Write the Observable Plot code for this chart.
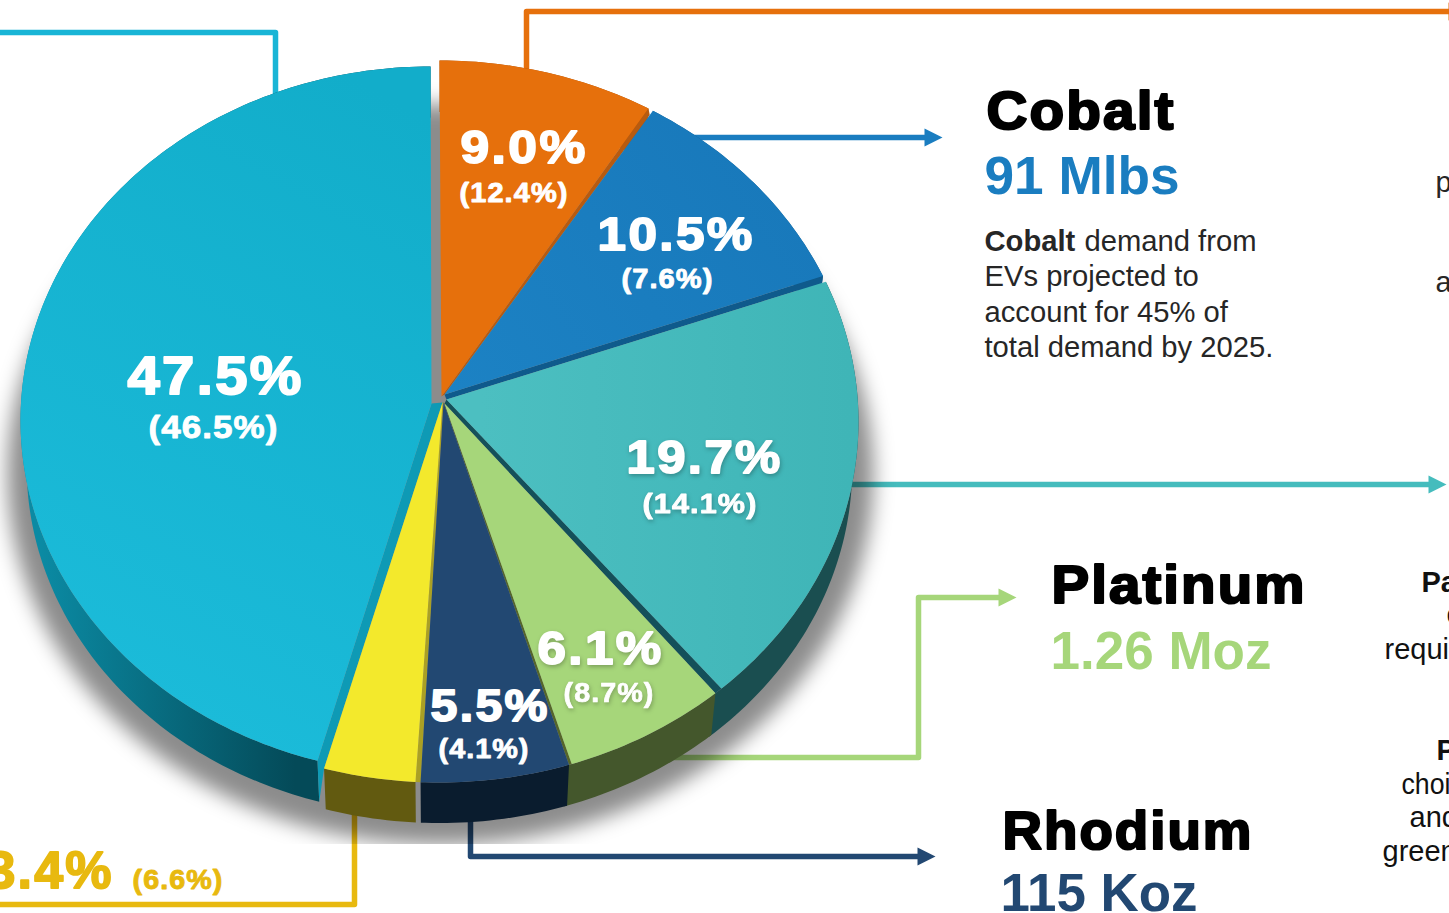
<!DOCTYPE html>
<html>
<head>
<meta charset="utf-8">
<script src="https://cdn.jsdelivr.net/npm/d3@7"></script>
<script src="https://cdn.jsdelivr.net/npm/@observablehq/plot@0.6"></script>
<style>html,body{margin:0;padding:0;background:#fff;overflow:hidden}svg{display:block}</style>
</head>
<body>
<div id="chart"></div>
<script>
// ---- values ----
const sliceKeys = ["orange", "blue", "teal", "green", "navy", "yellow", "cyan"];
const sliceShare = [8.31, 9.89, 19.58, 6.33, 5.72, 3.53, 45.56];   // visible share of the rim, %
const sliceGap = [0.7, 1.0, 1.1, 0.4, 0.7, 0, 0];                  // visible gap after each slice, degrees
const currentPct = ["9.0%", "10.5%", "19.7%", "6.1%", "5.5%", "3.4%", "47.5%"];
const priorPct = ["(12.4%)", "(7.6%)", "(14.1%)", "(8.7%)", "(4.1%)", "(6.6%)", "(46.5%)"];
const metalNames = ["Cobalt", "Platinum", "Rhodium"];
const metalAmounts = ["91 Mlbs", "1.26 Moz", "115 Koz"];
const cobaltNote = ["EVs projected to", "account for 45% of", "total demand by 2025."];

// ---- layout ----
const W = 1449, H = 913;
const rimMain = {cx: 439, cy: 421, rx: 419, ry: 361};
const rimCyan = {cx: 430, cy: 420, rx: 410, ry: 354};
const apex = {
  orange: [441, 396], blue: [444, 394], teal: [446, 399], green: [444, 403],
  navy: [443, 402], yellow: [442, 402], cyan: [431, 403]
};
const faceFill = {orange: "#e6700c", blue: "url(#gBlue)", teal: "url(#gTeal)", green: "#a6d67a", navy: "#224872", yellow: "#f3e92c", cyan: "url(#gCyan)"};
const wallFill = {orange: "#a34e0a", blue: "#0f5a8c", teal: "#1a4e50", green: "#44572c", navy: "#0a1c2e", yellow: "#625a10", cyan: "url(#gCyanWall)"};
const backToFront = ["cyan", "teal", "blue", "orange", "green", "yellow", "navy"];

const rad = d => d * Math.PI / 180;
const rimAt = (p, deg) => [p.cx + p.rx * Math.sin(rad(deg)), p.cy - p.ry * Math.cos(rad(deg))];
const wallAt = (p, deg) => [p.cx + 0.985 * p.rx * Math.sin(rad(deg)), p.cy + 46 - 0.985 * p.ry * Math.cos(rad(deg))];
const rimFor = k => (k === "cyan" ? rimCyan : rimMain);

// slice spans computed from the shares
let cursor = 0;
const span = {};
sliceKeys.forEach((k, i) => {
  const a = cursor, b = cursor + sliceShare[i] * 3.6;
  span[k] = [a, b];
  cursor = b + sliceGap[i];
});

const arcRange = ([a, b]) => d3.range(a, b, 1).concat([b]);
const pts = list => list.map(([x, y]) => ({x, y}));
const poly = (points, fill, extra = {}) =>
  Plot.line(pts(points), {x: "x", y: "y", fill, stroke: "none", ...extra});

// shadow: an ellipse, blurred and cut off at the bottom of the image box
const shadowRing = d3.range(0, 360, 2).map(d => rimAt({cx: 440, cy: 474, rx: 433, ry: 370}, d));
const shadowMark = poly(shadowRing, "#000", {
  fillOpacity: 0.45,
  render(index, scales, values, dimensions, context, next) {
    const g = next(index, scales, values, dimensions, context);
    g.style.filter = "blur(10px)";
    const wrap = document.createElementNS("http://www.w3.org/2000/svg", "g");
    wrap.setAttribute("clip-path", "url(#shadowClip)");
    wrap.appendChild(g);
    return wrap;
  }
});

// side walls: teal and green run on behind their neighbour so that no gap shows
const wallSpan = k => {
  if (k === "teal") return [span.teal[0], span.green[0] + 0.5];
  if (k === "green") return [span.green[0], span.navy[0] + 0.5];
  return span[k];
};
const wallMarks = backToFront.map(k => {
  const p = rimFor(k), angles = arcRange(wallSpan(k));
  const top = angles.map(d => rimAt(p, d));
  const bottom = angles.map(d => wallAt(p, d)).reverse();
  return poly(top.concat(bottom), wallFill[k]);
});

// cut faces seen between neighbouring slices; "reach" stops the far corner just short of the rim
const cut = (k1, k2, fill, reach = 1) => {
  const a = apex[k2], r = rimAt(rimFor(k2), span[k2][0]);
  const far = [a[0] + (r[0] - a[0]) * reach, a[1] + (r[1] - a[1]) * reach];
  return poly([apex[k1], rimAt(rimFor(k1), span[k1][1]), far, a], fill);
};
const cutMarks = [
  cut("orange", "blue", "#b85b10", 0.985),
  cut("blue", "teal", "#0f5a8c", 0.99),
  cut("teal", "green", "#14505a"),
  cut("green", "navy", "#55662a"),
  cut("navy", "yellow", "#aaa024"),
  poly([apex.cyan, rimAt(rimCyan, span.cyan[0]), wallAt(rimCyan, span.cyan[0]), rimAt(rimMain, span.yellow[1]), apex.yellow], "#0e9ab5")
];

// top faces
const faceMarks = backToFront.map(k => {
  const p = rimFor(k);
  return poly([apex[k], ...arcRange(span[k]).map(d => rimAt(p, d))], faceFill[k]);
});

// leader lines
const leader = (points, stroke) => Plot.line(pts(points), {x: "x", y: "y", stroke, strokeWidth: 5.5, strokeLinejoin: "round", strokeLinecap: "butt"});
const head = (tipX, y, fill, len = 18, half = 9) => poly([[tipX, y], [tipX - len, y - half], [tipX - len, y + half]], fill);
const leaderMarks = [
  leader([[-6, 32], [275, 32], [275, 100]], "#19b5d6"),
  leader([[526, 75], [526, 11], [1449, 11]], "#e6700c"),
  head(1466, 11, "#e6700c"),
  leader([[685, 137], [926, 137]], "#1a7dc0"),
  head(942, 137, "#1a7dc0"),
  leader([[845, 484], [1430, 484]], "#45bcbd"),
  head(1446, 484, "#45bcbd"),
  leader([[660, 757], [918, 757], [918, 597], [1000, 597]], "#a6d67a"),
  head(1016, 597, "#a6d67a"),
  leader([[470, 815], [470, 856], [920, 856]], "#224872"),
  head(935, 856, "#224872"),
  leader([[354, 805], [354, 904], [-6, 904]], "#e8b90f")
];

// text with measured left edge, baseline and width
function label(t, x, y, o) {
  const {size, fill = "#fff", w, weight = "bold", halo = 0, glow = false, track = 0} = o;
  return Plot.text([{t, x, y}], {
    x: "x", y: "y", text: "t", textAnchor: "start", lineAnchor: "bottom",
    fontFamily: "Liberation Sans, Arial, sans-serif", fontSize: size, fontWeight: weight, fill,
    ...(halo ? {stroke: fill, strokeWidth: halo, strokeLinejoin: "round"} : {}),
    render(index, scales, values, dimensions, context, next) {
      const g = next(index, scales, values, dimensions, context);
      g.querySelectorAll("text").forEach(el => {
        if (track) el.style.letterSpacing = track + "px";
        if (w) { el.setAttribute("textLength", w + track); el.setAttribute("lengthAdjust", "spacingAndGlyphs"); }
        if (halo) el.setAttribute("paint-order", "stroke");
      });
      if (glow) g.style.filter = "drop-shadow(1px 2px 2px rgba(0,0,0,.25))";
      return g;
    }
  });
}

const i = k => sliceKeys.indexOf(k);
const big = {size: 47, halo: 1.8, track: 2.2};
const sub = {size: 27, halo: 0.9, track: 1};
const textMarks = [
  label(currentPct[i("orange")], 460, 162, {...big, w: 125}),
  label(priorPct[i("orange")], 459, 201, {...sub, w: 108}),
  label(currentPct[i("blue")], 597, 249, {...big, w: 155}),
  label(priorPct[i("blue")], 621, 287, {...sub, w: 91}),
  label(currentPct[i("teal")], 626, 472, {...big, w: 154, glow: true}),
  label(priorPct[i("teal")], 642, 512, {...sub, w: 114, glow: true}),
  label(currentPct[i("green")], 537, 663, {...big, w: 124, glow: true}),
  label(priorPct[i("green")], 563, 701, {...sub, w: 90, halo: 0.7, glow: true}),
  label(currentPct[i("navy")], 430, 720, {...big, size: 45, w: 117}),
  label(priorPct[i("navy")], 438, 757, {...sub, w: 90}),
  label(currentPct[i("cyan")], 127, 393, {...big, size: 54, w: 174, halo: 2}),
  label(priorPct[i("cyan")], 148, 437, {...sub, size: 32, w: 129}),
  label(currentPct[i("yellow")], -14, 887, {...big, size: 52, w: 125, fill: "#e8b90f"}),
  label(priorPct[i("yellow")], 132, 888, {...sub, w: 90, fill: "#e8b90f"}),

  label(metalNames[0], 986, 128, {size: 54, w: 187, fill: "#000", halo: 2.2, track: 2}),
  label(metalAmounts[0], 984, 193, {size: 53, w: 195, fill: "#1a7dc0"}),
  label(metalNames[1], 1051, 602, {size: 54, w: 253, fill: "#000", halo: 2.2, track: 2}),
  label(metalAmounts[1], 1050, 668, {size: 53, w: 221, fill: "#a6d67a"}),
  label(metalNames[2], 1002, 848, {size: 54, w: 249, fill: "#000", halo: 2.2, track: 2}),
  label(metalAmounts[2], 1000, 910, {size: 53, w: 197, fill: "#224872"}),

  label("Cobalt", 984, 250, {size: 29.2, fill: "#262626"}),
  label("demand from", 1084, 250, {size: 29.2, weight: "normal", fill: "#262626"}),
  ...cobaltNote.map((t, n) => label(t, 984, [285, 321, 356][n], {size: 29.2, weight: "normal", fill: "#262626"})),

  label("p", 1435, 191, {size: 29, weight: "normal", fill: "#262626"}),
  label("a", 1435, 291, {size: 29, weight: "normal", fill: "#262626"}),
  label("Pa", 1421, 591, {size: 29, fill: "#111"}),
  label("c", 1446, 623, {size: 29, weight: "normal", fill: "#111"}),
  label("requi", 1384, 658, {size: 29, weight: "normal", fill: "#111"}),
  label("P", 1436, 759, {size: 29, fill: "#111"}),
  label("choi", 1401, 793, {size: 29, weight: "normal", fill: "#111", w: 49}),
  label("and", 1409, 826, {size: 29, weight: "normal", fill: "#111"}),
  label("green", 1382, 860, {size: 29, weight: "normal", fill: "#111"})
];

const defsMark = () => d3.create("svg:defs").html(`
  <clipPath id="shadowClip"><rect x="-50" y="0" width="${W + 100}" height="844"></rect></clipPath>
  <linearGradient id="gCyan" gradientUnits="userSpaceOnUse" x1="120" y1="680" x2="430" y2="120">
    <stop offset="0" stop-color="#1bbbd9"></stop><stop offset="1" stop-color="#12adca"></stop></linearGradient>
  <linearGradient id="gCyanWall" gradientUnits="userSpaceOnUse" x1="40" y1="0" x2="295" y2="0">
    <stop offset="0" stop-color="#0b8aa3"></stop><stop offset="1" stop-color="#044a58"></stop></linearGradient>
  <linearGradient id="gTeal" gradientUnits="userSpaceOnUse" x1="480" y1="0" x2="850" y2="0">
    <stop offset="0" stop-color="#4cbfc1"></stop><stop offset="1" stop-color="#3fb5b7"></stop></linearGradient>
  <linearGradient id="gBlue" gradientUnits="userSpaceOnUse" x1="450" y1="390" x2="800" y2="150">
    <stop offset="0" stop-color="#1c82c4"></stop><stop offset="1" stop-color="#1878ba"></stop></linearGradient>
`).node();

const chart = Plot.plot({
  width: W, height: H,
  marginTop: 0, marginRight: 0, marginBottom: 0, marginLeft: 0,
  x: {domain: [0, W], range: [0, W], axis: null},
  y: {domain: [0, H], range: [0, H], axis: null},
  style: {background: "#fff", overflow: "hidden"},
  marks: [
    defsMark,
    ...leaderMarks,
    shadowMark,
    ...wallMarks,
    ...cutMarks,
    ...faceMarks,
    ...textMarks
  ]
});
document.getElementById("chart").appendChild(chart);
</script>
</body>
</html>
